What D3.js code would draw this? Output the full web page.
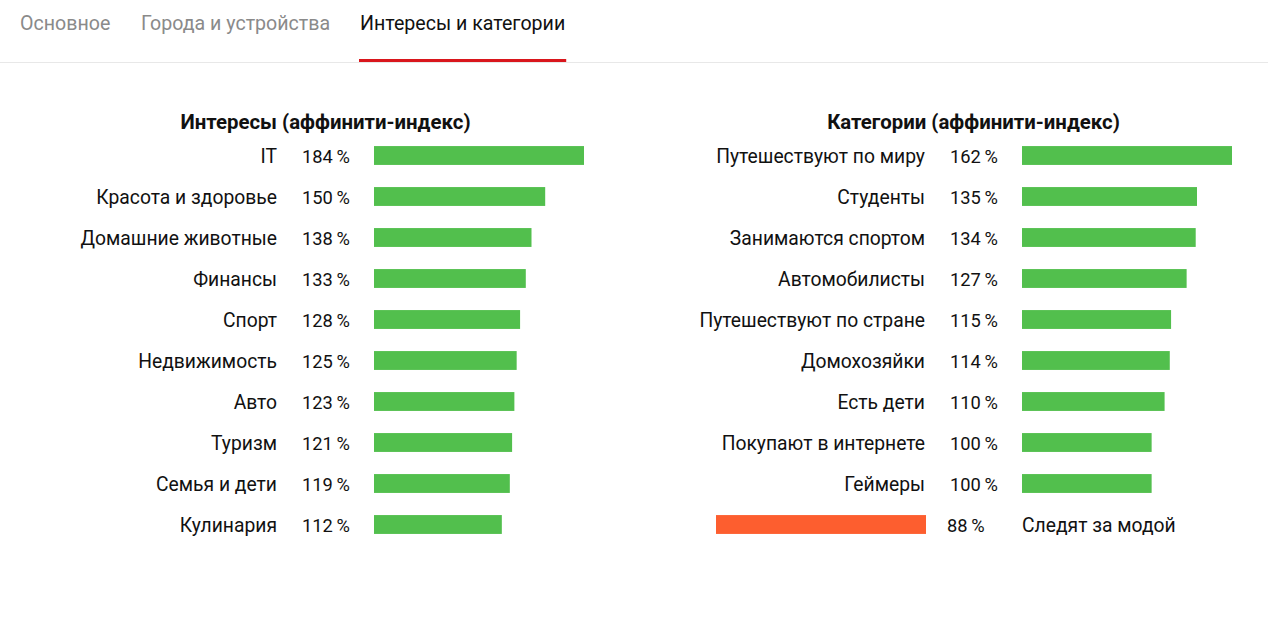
<!DOCTYPE html>
<html><head><meta charset="utf-8">
<script src="https://cdn.jsdelivr.net/npm/d3@7"></script>
<style>
html,body{margin:0;padding:0;background:#fff;}
svg{display:block;font-family:Roboto,"Noto Sans",sans-serif;}
</style></head>
<body>
<svg id="c" width="1268" height="638"></svg>
<script>
const tabs = ["Основное", "Города и устройства", "Интересы и категории"];
const activeTab = 2;

const interestTitle = "Интересы (аффинити-индекс)";
const interestCats = ["IT","Красота и здоровье","Домашние животные","Финансы","Спорт","Недвижимость","Авто","Туризм","Семья и дети","Кулинария"];
const interestVals = [184,150,138,133,128,125,123,121,119,112];

const categoryTitle = "Категории (аффинити-индекс)";
const categoryCats = ["Путешествуют по миру","Студенты","Занимаются спортом","Автомобилисты","Путешествуют по стране","Домохозяйки","Есть дети","Покупают в интернете","Геймеры","Следят за модой"];
const categoryVals = [162,135,134,127,115,114,110,100,100,88];

const svg = d3.select("#c");
const GREEN = "#52bf4d", ORANGE = "#fd5e2f";

// Tabs
const tabX = [20, 141, 360];
const tabG = svg.append("g");
tabs.forEach((t,i)=>{
  const tx = tabG.append("text").attr("x", tabX[i]).attr("y", 30)
    .attr("font-size", 19.6).attr("fill", i===activeTab ? "#111" : "#8a8a8a").text(t);
  if(i===activeTab){
    const w = tx.node().getComputedTextLength();
    tabG.append("rect").attr("x", tabX[i]-1).attr("y", 59).attr("width", w+2).attr("height", 3).attr("fill", "#d9161c");
  }
});
svg.append("rect").attr("x",0).attr("y",62).attr("width",1268).attr("height",1).attr("fill","#e8e8e8");

function panel(ox, title, cats, vals){
  const g = svg.append("g").attr("transform", `translate(${ox},0)`);
  const labelRight = 277, valX = 302, barX = 374, barMax = 210;
  const y = d3.scaleBand().domain(cats).range([135, 545]).paddingInner(0.54).paddingOuter(0.27);
  const above = vals.filter(v=>v>=100), below = vals.filter(v=>v<100);
  const xUp = d3.scaleLinear().domain([0, d3.max(above)]).range([0, barMax]);
  const xDown = d3.scaleLinear().domain([0, below.length ? d3.max(below) : 1]).range([0, barMax]);
  g.append("text").attr("x", 325.5).attr("y", 128.5).attr("text-anchor","middle")
    .attr("font-size", 20.4).attr("font-weight", 700).attr("fill","#111").text(title);
  cats.forEach((c,i)=>{
    const v = vals[i];
    const yb = y(c), cy = yb + y.bandwidth()/2;
    const base = cy + 7.5;
    if(v >= 100){
      g.append("text").attr("x", labelRight).attr("y", base).attr("text-anchor","end")
        .attr("font-size", 19.3).attr("fill","#111").text(c);
      g.append("text").attr("x", valX).attr("y", base).attr("font-size", 18.3).attr("fill","#111").text(v + "\u2009%");
      g.append("rect").attr("x", barX).attr("y", yb).attr("width", xUp(v)).attr("height", y.bandwidth()).attr("fill", GREEN);
    } else {
      const w = xDown(v);
      g.append("rect").attr("x", labelRight+1-w).attr("y", yb).attr("width", w).attr("height", y.bandwidth()).attr("fill", ORANGE);
      g.append("text").attr("x", valX-3).attr("y", base).attr("font-size", 18.3).attr("fill","#111").text(v + "\u2009%");
      g.append("text").attr("x", barX).attr("y", base).attr("font-size", 19.3).attr("fill","#111").text(c);
    }
  });
}
panel(0, interestTitle, interestCats, interestVals);
panel(648, categoryTitle, categoryCats, categoryVals);
</script>
</body></html>
